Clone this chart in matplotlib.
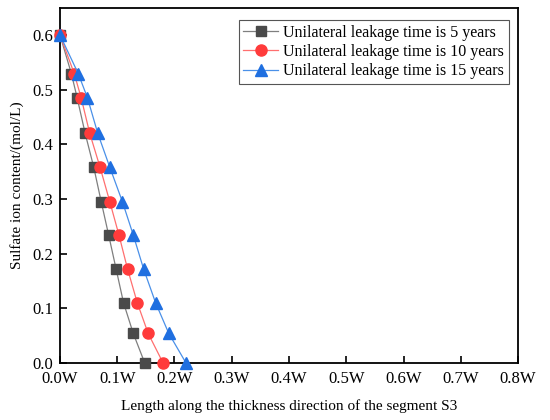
import numpy as np
import matplotlib.pyplot as plt

plt.rcParams['font.family'] = ['Liberation Serif', 'DejaVu Serif']

# concentration levels (shared by the three curves)
conc = [0.6, 0.529, 0.485, 0.42, 0.358, 0.295, 0.234, 0.172, 0.11, 0.054, 0.0]
# position along the thickness, in units of W
x_5y = [0.0, 0.020, 0.030, 0.044, 0.059, 0.072, 0.085, 0.098, 0.111, 0.128, 0.148]
x_10y = [0.0, 0.025, 0.037, 0.052, 0.070, 0.087, 0.103, 0.118, 0.135, 0.154, 0.180]
x_15y = [0.0, 0.032, 0.048, 0.066, 0.087, 0.109, 0.128, 0.146, 0.167, 0.190, 0.220]

labels = ['Unilateral leakage time is 5 years',
          'Unilateral leakage time is 10 years',
          'Unilateral leakage time is 15 years']
xticks = [0.0, 0.1, 0.2, 0.3, 0.4, 0.5, 0.6, 0.7, 0.8]
yticks = [0.0, 0.1, 0.2, 0.3, 0.4, 0.5, 0.6]

fig = plt.figure(figsize=(5.5, 4.2), dpi=100)
ax = fig.add_axes([0.109, 0.136, 0.833, 0.846])

ax.plot(x_5y, conc, color='#7f7f7f', lw=0.9, marker='s', ms=7,
        mfc='#4a4a4a', mec='#4a4a4a', label=labels[0], clip_on=False, zorder=3)
ax.plot(x_10y, conc, color='#ff6f6f', lw=0.9, marker='o', ms=8,
        mfc='#ff3b3b', mec='#ff3b3b', label=labels[1], clip_on=False, zorder=3)
ax.plot(x_15y, conc, color='#4a90e8', lw=0.9, marker='^', ms=8,
        mfc='#1f6fe0', mec='#1f6fe0', label=labels[2], clip_on=False, zorder=3)

ax.set_xlim(0, 0.8)
ax.set_ylim(0, 0.65)
ax.set_xticks(xticks)
ax.set_xticklabels([f'{v:.1f}W' for v in xticks])
ax.set_yticks(yticks)
ax.set_yticklabels([f'{v:.1f}' for v in yticks])
ax.tick_params(direction='in', length=5, width=1.2, labelsize=12)
ax.tick_params(axis='x', pad=6)
ax.tick_params(axis='y', pad=5)
for s in ax.spines.values():
    s.set_linewidth(1.3)

ax.set_xlabel('Length along the thickness direction of the segment S3', fontsize=11, labelpad=9)
ax.set_ylabel('Sulfate ion content/(mol/L)', fontsize=11, labelpad=6)

leg = ax.legend(loc='upper right', bbox_to_anchor=(0.980, 0.965), borderaxespad=0,
                fontsize=11.5, fancybox=False, edgecolor='#555555', framealpha=1,
                handlelength=2.2, borderpad=0.3, labelspacing=0.2, handletextpad=0.3)
leg.get_frame().set_linewidth(0.8)

fig.savefig('out.png', dpi=100)
